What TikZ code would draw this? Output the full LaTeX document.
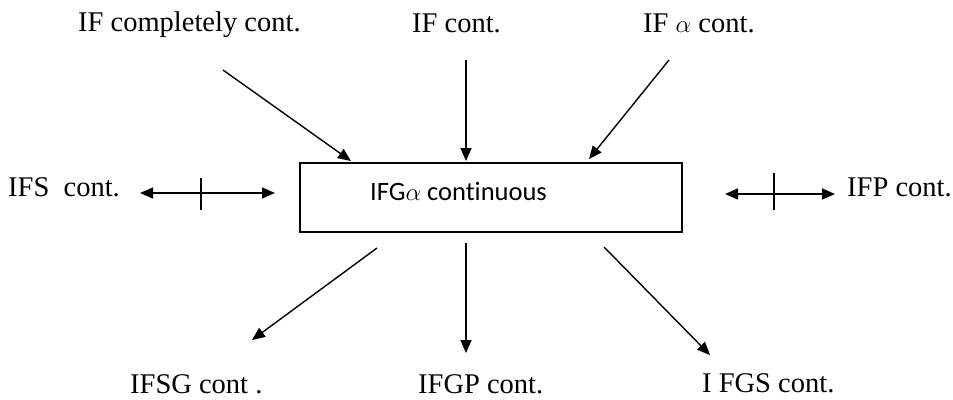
\documentclass[tikz,border=0pt]{standalone}
\usepackage{fontspec}
\setmainfont{Liberation Serif}
\newfontfamily\boxfont[Ligatures=NoCommon]{Carlito}
\usetikzlibrary{arrows.meta}
\begin{document}
\begin{tikzpicture}[x=1pt,y=-1pt,
  lbl/.style={anchor=base west,inner sep=0pt,font=\fontsize{28.5}{32}\selectfont},
  arr/.style={line width=1.4pt,-{Triangle[length=13pt,width=11pt]}},
  darr/.style={line width=1.4pt,{Triangle[length=13pt,width=11pt]}-{Triangle[length=13pt,width=11pt]}},
  tick/.style={line width=1.2pt},
  box/.style={draw,line width=1.3pt,minimum width=382pt,minimum height=69pt,inner sep=0pt}]
\useasboundingbox (0,0) rectangle (953,399);
% labels
\node[lbl] (cc) at (78,31) {IF completely cont.};
\node[lbl] (ic) at (412,32) {IF cont.};
\node[lbl] (ia) at (643,32) {IF $\alpha$ cont.};
\node[lbl] (is) at (8,196) {IFS\ \ cont.};
\node[lbl] (ip) at (847,196) {IFP cont.};
\node[lbl] (isg) at (130,393) {IFSG cont .};
\node[lbl] (igp) at (418,393) {IFGP cont.};
\node[lbl] (igs) at (702,392) {I FGS cont.};
% central box
\node[box] (B) at (491,197.5) {};
\node[anchor=base west,inner sep=0pt,font=\boxfont\fontsize{26.5}{30}\selectfont] (Bt) at (370,200) {IFG$\alpha$ continuous};
% arrow end points
\coordinate (a1s) at (223,70);  \coordinate (a1e) at (351,161);
\coordinate (a2s) at (466,60);  \coordinate (a2e) at (466,161);
\coordinate (a3s) at (669,60);  \coordinate (a3e) at (589,159);
\coordinate (l1) at (140,193);  \coordinate (l2) at (275,193);
\coordinate (lt1) at (201,178); \coordinate (lt2) at (201,210);
\coordinate (r1) at (725,194);  \coordinate (r2) at (835,194);
\coordinate (rt1) at (774,173); \coordinate (rt2) at (774,210);
\coordinate (b1s) at (377,248); \coordinate (b1e) at (252,340);
\coordinate (b2s) at (466,243); \coordinate (b2e) at (466,353);
\coordinate (b3s) at (604,247); \coordinate (b3e) at (710,355);
\draw[arr] (a1s) -- (a1e);
\draw[arr] (a2s) -- (a2e);
\draw[arr] (a3s) -- (a3e);
\draw[darr] (l1) -- (l2);
\draw[tick] (lt1) -- (lt2);
\draw[darr] (r1) -- (r2);
\draw[tick] (rt1) -- (rt2);
\draw[arr] (b1s) -- (b1e);
\draw[arr] (b2s) -- (b2e);
\draw[arr] (b3s) -- (b3e);
\end{tikzpicture}
\end{document}
